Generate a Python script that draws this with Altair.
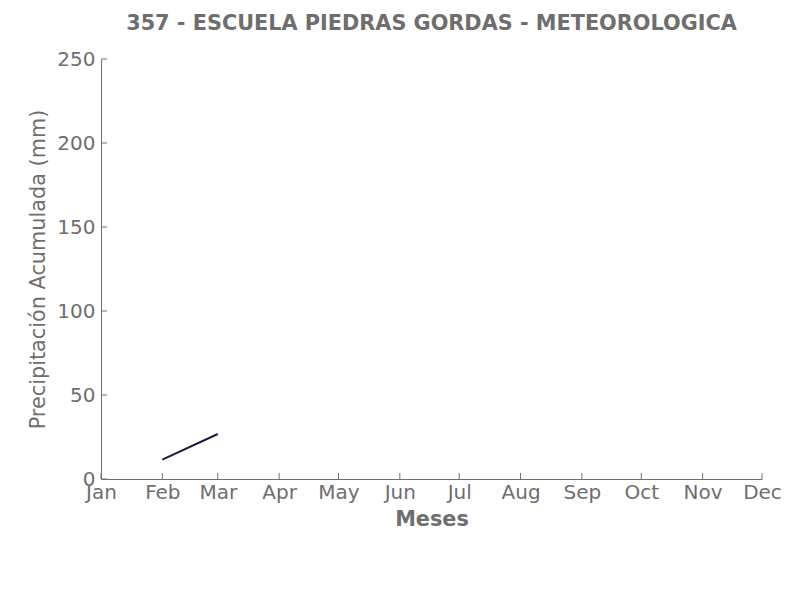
import altair as alt
import pandas as pd

title = "357 - ESCUELA PIEDRAS GORDAS - METEOROLOGICA"
dates = ["2023-02-01", "2023-03-01"]
precip = [11.5, 26.8]
month_ticks = ["2023-%02d-01" % m for m in range(1, 13)]
y_ticks = [0, 50, 100, 150, 200, 250]

GREY = "#6e6e6e"
FONT = "DejaVu Sans"

df = pd.DataFrame({"fecha": dates, "pp": precip})
xt = pd.DataFrame({"fecha": month_ticks})
yt = pd.DataFrame({"v": y_ticks})

xscale = alt.Scale(type="utc", domain=[alt.DateTime(year=2023, month=1, date=1, utc=True),
                                      alt.DateTime(year=2023, month=12, date=1, utc=True)])
yscale = alt.Scale(domain=[0, 250], nice=False)

xaxis = alt.Axis(
    title="Meses", labelExpr="utcFormat(datum.value, '%b')",
    values=[alt.DateTime(year=2023, month=m, date=1, utc=True) for m in range(1, 13)],
    ticks=False, grid=False, domainColor=GREY, labelColor=GREY, titleColor=GREY,
    labelFont=FONT, titleFont=FONT, labelFontSize=20, titleFontSize=20.8,
    titleFontWeight="bold", labelPadding=3, titlePadding=7, labelFlush=False,
    labelOverlap=False,
)
yaxis = alt.Axis(
    title="Precipitación Acumulada (mm)", values=y_ticks,
    ticks=False, grid=False, domainColor=GREY, labelColor=GREY, titleColor=GREY,
    labelFont=FONT, titleFont=FONT, labelFontSize=20, titleFontSize=20.8,
    titleFontWeight="normal", labelPadding=6, titlePadding=8, labelOverlap=False,
)

line = alt.Chart(df).mark_line(color="#1c1c40", strokeWidth=2).encode(
    x=alt.X("fecha:T", scale=xscale, axis=xaxis),
    y=alt.Y("pp:Q", scale=yscale, axis=yaxis),
)

xticks = alt.Chart(xt).mark_rule(color=GREY, strokeWidth=1).encode(
    x=alt.X("fecha:T", scale=xscale),
    y=alt.value(420), y2=alt.value(414),
)
yticks = alt.Chart(yt).mark_rule(color=GREY, strokeWidth=1).encode(
    y=alt.Y("v:Q", scale=yscale),
    x=alt.value(0), x2=alt.value(6),
)

chart = alt.layer(line, xticks, yticks).properties(
    width=661, height=420,
    title=alt.TitleParams(title, font=FONT, fontSize=20.8, fontWeight="bold",
                          color=GREY, anchor="middle", offset=14),
    autosize=alt.AutoSizeParams(type="none"),
    padding={"left": 93, "top": 51, "right": 30, "bottom": 100},
).configure_view(stroke=None)

chart.save("out.html", embed_options={"renderer": "svg", "actions": False})
